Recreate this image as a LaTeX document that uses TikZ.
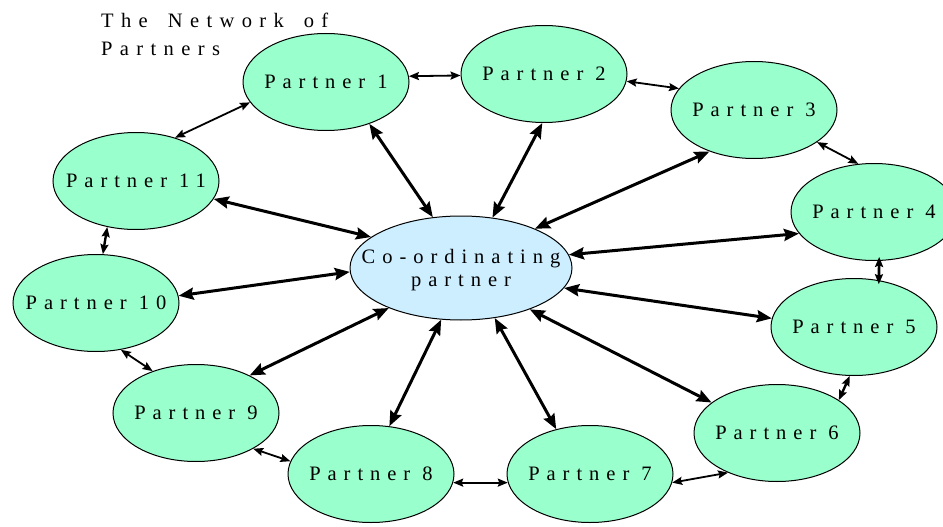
\documentclass[tikz,border=0pt]{standalone}
\usepackage{fontspec}
\setmainfont{Liberation Serif}[LetterSpace=34]
\newfontfamily\titlefont{Liberation Serif}[LetterSpace=36, WordSpace=1.6]
\usetikzlibrary{shapes.geometric,arrows.meta}
\definecolor{partnergreen}{RGB}{153,255,204}
\definecolor{hubblue}{RGB}{204,238,255}
\tikzset{
  partner/.style = {shape=ellipse, draw, line width=1pt, fill=partnergreen,
    minimum width=166pt, minimum height=97pt, inner ysep=0pt, inner xsep=-40pt,
    font=\fontsize{20.5}{23}\selectfont, text depth=0pt},
  hub/.style = {partner, fill=hubblue, minimum width=222pt, minimum height=104pt,
    inner xsep=-50pt, align=center},
  hublink/.style = {{Stealth[length=15pt,width=12pt,inset=2pt]}-{Stealth[length=15pt,width=12pt,inset=2pt]},
    line width=3pt},
  nearlink/.style = {{Stealth[length=10pt,width=8pt,inset=1.5pt]}-{Stealth[length=10pt,width=8pt,inset=1.5pt]},
    line width=1.8pt}
}
\begin{document}
\begin{tikzpicture}[x=1pt, y=-1pt]
  \useasboundingbox (0,0) rectangle (943,527);
  % title
  \node [anchor=north west, inner sep=0pt, align=left,
    font=\titlefont\fontsize{20.5}{28}\selectfont] (title) at (101,13) {The Network of\\Partners};
  % hub and partners
  \node [hub] (hub) at (461,268) {Co-ordinating\\partner};
  \node [partner] (p1)  at (326,82)  {Partner 1};
  \node [partner] (p2)  at (544,74)  {Partner 2};
  \node [partner] (p3)  at (754,110) {Partner 3};
  \node [partner] (p4)  at (874,212) {Partner 4};
  \node [partner] (p5)  at (854,327) {Partner 5};
  \node [partner] (p6)  at (777,433) {Partner 6};
  \node [partner] (p7)  at (590,474) {Partner 7};
  \node [partner] (p8)  at (371,474) {Partner 8};
  \node [partner] (p9)  at (196,413) {Partner 9};
  \node [partner] (p10) at (96,303)  {Partner 10};
  \node [partner] (p11) at (136,181) {Partner 11};
  % links to the hub
  \draw [hublink] (p1.-44)  -- (hub.119);
  \draw [hublink] (p2.-92)  -- (hub.58);
  \draw [hublink] (p3.223)  -- (hub.28);
  \draw [hublink] (p4.196)  -- (hub.7);
  \draw [hublink] (p5.174)  -- (hub.-11);
  \draw [hublink] (p6.155)  -- (hub.-31);
  \draw [hublink] (p7.127)  -- (hub.-56);
  \draw [hublink] (p8.69)   -- (hub.-111);
  \draw [hublink] (p9.35)   -- (hub.209);
  \draw [hublink] (p10.5)   -- (hub.182);
  \draw [hublink] (p11.-13) -- (hub.161);
  % links between neighbours
  \draw [nearlink] (p1.4)    -- (p2.181);
  \draw [nearlink] (p2.-5)   -- (p3.164);
  \draw [nearlink] (p3.-27)  -- (p4.108);
  \draw [nearlink, line width=2.6pt, shorten <=-4pt, shorten >=-4pt] (p4.-84) -- (p5.62);
  \draw [nearlink, line width=2.4pt] (p5.-95)  -- (p6.28);
  \draw [nearlink] (p6.219)  -- (p7.-6);
  \draw [nearlink] (p7.186)  -- (p8.-6);
  \draw [nearlink] (p8.171)  -- (p9.-32);
  \draw [nearlink] (p9.136)  -- (p10.-62);
  \draw [nearlink, line width=2.4pt] (p10.82)  -- (p11.238);
  \draw [nearlink] (p11.48)  -- (p1.195);
\end{tikzpicture}
\end{document}
